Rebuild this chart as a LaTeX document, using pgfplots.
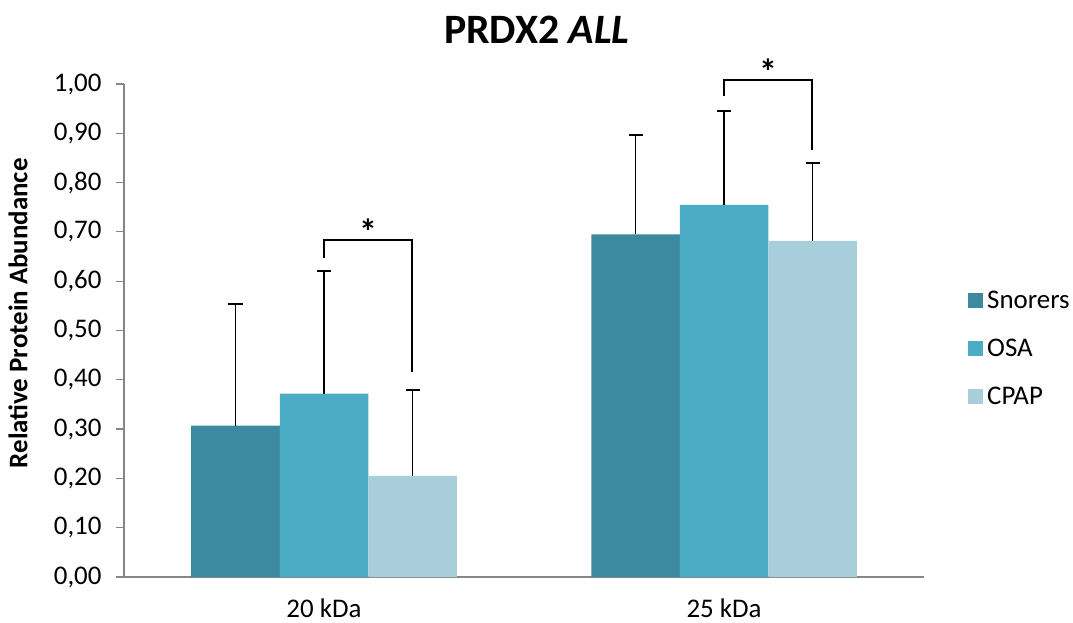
\documentclass[border=0pt]{standalone}
\usepackage{fontspec}
\setmainfont{Carlito}
\usepackage{pgfplots}
\pgfplotsset{compat=1.18}
\definecolor{cSnor}{RGB}{61,138,160}
\definecolor{cOSA}{RGB}{75,172,198}
\definecolor{cCPAP}{RGB}{168,206,220}
\definecolor{axgray}{RGB}{134,134,134}
\pgfplotsset{myerr/.style={error bars/.cd, y dir=plus, y explicit,
  error bar style={color=black, line width=1.9bp},
  error mark options={color=black, line width=1.9bp, mark size=7bp, rotate=90}}}
\begin{document}
\begin{tikzpicture}
\path[use as bounding box] (-124bp,-46bp) rectangle (949bp,577bp);
\begin{axis}[
  at={(0,0)}, anchor=south west,
  scale only axis, width=800bp, height=493bp,
  ybar=0pt, bar width=88.5bp,
  xmin=-0.5, xmax=1.5, ymin=0, ymax=1,
  xtick={0,1}, xticklabels={20 kDa, 25 kDa},
  ytick={0,0.1,0.2,0.3,0.4,0.5,0.6,0.7,0.8,0.9,1.0},
  axis x line*=bottom, axis y line*=left,
  axis line style={-, axgray, line width=1.2bp},
  tick align=outside, major tick length=8bp,
  ytick style={axgray, line width=1.2bp},
  xtick style={draw=none},
  tick label style={font=\fontsize{27}{27}\selectfont},
  yticklabel style={xshift=-11bp, /pgf/number format/.cd, fixed, fixed zerofill, precision=2, use comma, assume math mode=true},
  xticklabel style={yshift=-10bp},
  clip=false,
  legend style={draw=none, fill=none, at={(rel axis cs:1.055,0.585)}, anchor=north west,
    font=\fontsize{27}{27}\selectfont, row sep=25bp, inner sep=0pt,
    nodes={inner xsep=4bp}},
  legend cell align=left,
  legend image code/.code={\fill[#1, draw=none] (0bp,-7.5bp) rectangle (15bp,7.5bp);},
]
\addplot+[fill=cSnor, draw=none, myerr] coordinates {(0,0.307) +- (0,0.247) (1,0.695) +- (0,0.201)};
\addplot+[fill=cOSA, draw=none, myerr] coordinates {(0,0.372) +- (0,0.248) (1,0.755) +- (0,0.191)};
\addplot+[fill=cCPAP, draw=none, myerr] coordinates {(0,0.205) +- (0,0.174) (1,0.682) +- (0,0.158)};
\legend{Snorers, OSA, CPAP}
\draw[black, line width=1.9bp] (axis cs:0,0.647) -- (axis cs:0,0.684) -- (axis cs:0.221,0.684) -- (axis cs:0.221,0.416);
\draw[black, line width=1.9bp] (axis cs:1,0.975) -- (axis cs:1,1.008) -- (axis cs:1.221,1.008) -- (axis cs:1.221,0.867);
\node[font=\fontsize{36}{36}\selectfont\bfseries] at (axis cs:0.11,0.70) {*};
\node[font=\fontsize{36}{36}\selectfont\bfseries] at (axis cs:1.11,1.026) {*};
\node[font=\fontsize{27}{27}\selectfont\bfseries, rotate=90] at ([xshift=-106bp]rel axis cs:0,0.535) {Relative Protein Abundance};
\node[font=\fontsize{42}{42}\selectfont\bfseries] at (rel axis cs:0.516,1.1095) {PRDX2 \textit{ALL}};
\end{axis}
\end{tikzpicture}
\end{document}
